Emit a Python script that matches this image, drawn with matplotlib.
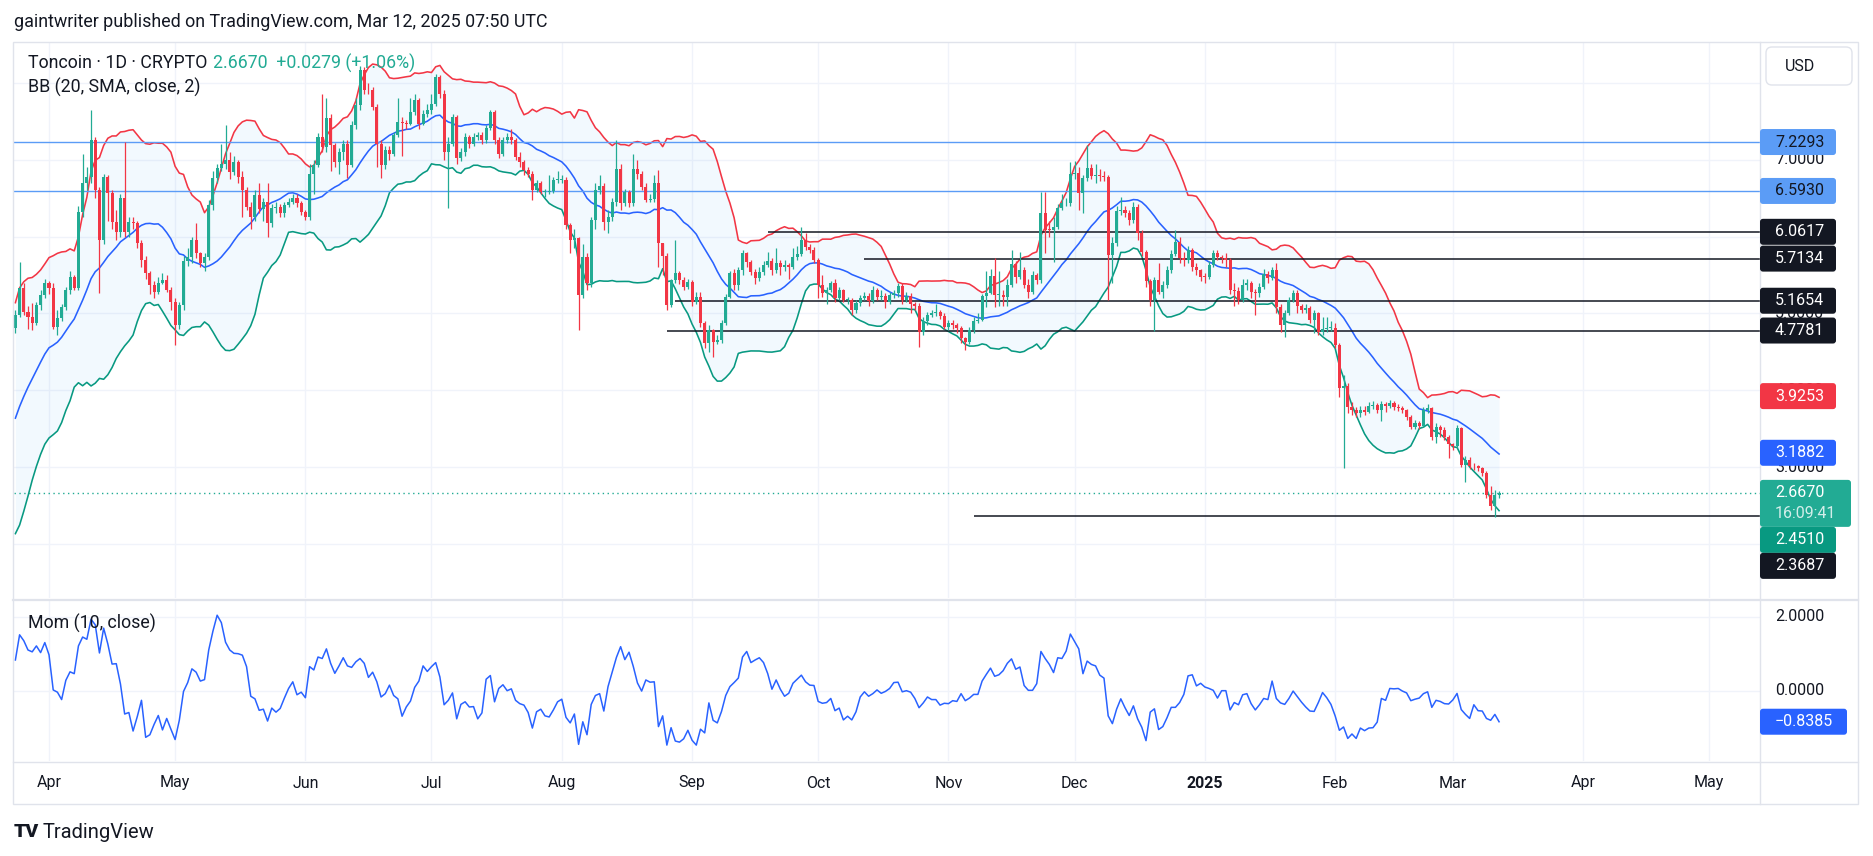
import numpy as np
import pandas as pd
import matplotlib
matplotlib.use('Agg')
import matplotlib.pyplot as plt
from matplotlib.patches import FancyBboxPatch, Rectangle

# ---------------- data ----------------
START = '2024-03-24'
# closes of the 19 days before the first visible candle (needed for BB / Mom)
pre_closes = [2.30, 2.40, 2.55, 2.70, 2.90, 3.10, 3.30, 3.70, 4.15,
              4.15, 3.82, 3.67, 3.86, 3.82, 3.90, 4.21, 4.09, 4.36, 4.81]

closes = [
 4.98,5.33,5.02,4.96,4.87,5.11,5.24,5.39,5.33,4.83,
 4.94,5.09,5.30,5.47,5.33,6.32,6.69,6.78,7.26,6.61,
 5.96,6.78,6.56,6.19,6.06,6.50,6.06,6.19,6.17,5.91,
 5.70,5.52,5.37,5.28,5.39,5.44,5.31,5.15,4.85,5.11,
 5.68,5.74,5.96,5.78,5.65,5.74,6.41,6.76,6.89,6.95,
 6.99,6.84,6.97,6.78,6.61,6.39,6.26,6.54,6.36,6.45,
 6.17,6.37,6.39,6.30,6.41,6.45,6.50,6.43,6.32,6.26,
 6.82,6.93,7.30,7.17,7.54,7.19,6.97,7.10,7.21,6.93,
 7.45,7.71,8.17,7.91,7.90,7.69,7.21,6.93,7.13,7.08,
 7.32,7.49,7.48,7.47,7.62,7.78,7.47,7.60,7.65,7.73,
 8.08,7.86,7.10,7.21,7.56,7.02,7.10,7.30,7.21,7.30,
 7.32,7.26,7.41,7.62,7.26,7.08,7.26,7.30,7.26,7.04,
 6.97,6.87,6.82,6.61,6.69,6.58,6.58,6.59,6.74,6.74,
 6.74,6.15,5.95,5.98,5.24,5.74,5.39,6.22,6.61,6.66,
 6.19,6.26,6.45,6.88,6.43,6.58,6.43,6.88,6.82,6.65,
 6.48,6.49,6.69,5.91,5.75,5.11,5.43,5.52,5.43,5.35,
 5.41,5.15,5.22,4.87,4.61,4.78,4.63,4.65,4.87,5.22,
 5.52,5.37,5.56,5.78,5.67,5.54,5.46,5.54,5.63,5.68,
 5.56,5.66,5.60,5.63,5.60,5.74,5.77,5.96,5.87,5.83,
 5.70,5.37,5.26,5.31,5.39,5.20,5.30,5.17,5.18,5.04,
 5.13,5.20,5.23,5.16,5.31,5.22,5.23,5.15,5.24,5.26,
 5.36,5.17,5.23,5.12,5.10,4.76,4.90,4.98,5.00,5.02,
 4.97,4.83,4.88,4.85,4.81,4.68,4.63,4.78,4.90,4.92,
 5.23,5.27,5.49,5.24,5.24,5.22,5.37,5.64,5.48,5.56,
 5.37,5.28,5.50,5.43,6.30,6.09,6.08,6.13,6.37,6.43,
 6.44,6.81,6.83,6.56,6.76,6.89,6.79,6.80,6.79,6.77,
 5.76,5.92,6.33,6.34,6.30,6.22,6.38,6.04,5.80,5.42,
 5.18,5.43,5.28,5.37,5.57,5.77,5.93,5.72,5.70,5.82,
 5.61,5.56,5.48,5.47,5.63,5.78,5.73,5.72,5.70,5.30,
 5.29,5.18,5.37,5.39,5.28,5.26,5.35,5.51,5.46,5.56,
 5.08,4.85,5.00,5.18,5.27,5.10,5.04,5.07,4.91,5.00,
 4.76,4.80,4.81,4.81,4.59,4.03,4.06,3.78,3.74,3.71,
 3.75,3.72,3.80,3.81,3.74,3.82,3.80,3.84,3.79,3.77,
 3.74,3.66,3.53,3.58,3.54,3.74,3.77,3.39,3.53,3.48,
 3.39,3.30,3.28,3.506,3.03,3.10,3.02,3.01,2.99,2.93,
 2.64,2.50,2.639,2.667]

highs = [
 5.05,5.67,5.40,5.10,5.13,5.15,5.30,5.45,5.42,5.40,
 5.05,5.12,5.35,5.55,5.50,6.40,7.08,6.90,7.65,7.30,
 6.65,6.82,6.80,6.60,6.35,6.55,7.23,6.25,6.25,6.20,
 5.95,5.75,5.55,5.42,5.48,5.52,5.50,5.35,5.20,5.15,
 5.75,5.85,6.00,6.18,5.80,5.78,6.48,6.85,6.95,7.20,
 7.45,7.10,7.05,7.00,6.85,6.65,6.45,6.60,6.70,6.50,
 6.70,6.42,6.45,6.42,6.45,6.50,6.55,6.55,6.46,6.35,
 6.95,7.00,7.35,7.86,7.80,7.60,7.22,7.15,7.25,7.25,
 7.50,7.80,8.22,8.20,8.00,7.95,7.72,7.25,7.18,7.18,
 7.36,7.80,7.55,7.52,7.80,7.85,7.80,7.65,7.72,7.85,
 8.12,8.10,7.90,7.30,7.60,7.58,7.15,7.35,7.32,7.35,
 7.36,7.36,7.45,7.65,7.64,7.30,7.30,7.35,7.40,7.28,
 7.10,7.00,6.90,6.85,6.73,6.72,6.62,6.80,6.78,6.85,
 6.80,6.78,6.18,6.10,6.00,5.90,5.78,6.25,6.70,6.80,
 6.70,6.35,6.50,7.25,6.95,6.62,6.60,7.08,7.00,6.85,
 6.70,6.55,6.80,6.87,5.92,5.78,5.45,5.96,5.55,5.48,
 5.45,5.43,5.28,5.28,4.90,4.85,4.80,4.72,4.92,5.25,
 5.55,5.58,5.60,5.82,5.80,5.70,5.58,5.60,5.68,5.80,
 5.72,5.85,5.70,5.70,5.66,5.85,5.88,6.12,6.05,5.90,
 5.86,5.72,5.50,5.35,5.42,5.45,5.35,5.32,5.22,5.20,
 5.18,5.24,5.28,5.27,5.36,5.33,5.30,5.26,5.28,5.30,
 5.40,5.40,5.28,5.26,5.15,5.14,4.95,5.02,5.05,5.12,
 5.05,5.00,4.92,4.92,4.88,4.84,4.70,4.82,4.95,5.00,
 5.25,5.55,5.58,5.72,5.55,5.30,5.45,5.82,5.68,5.80,
 5.60,5.45,5.55,5.52,6.58,6.58,6.20,6.25,6.42,6.55,
 6.50,6.97,6.98,6.90,6.80,7.19,6.95,6.95,6.88,6.85,
 6.80,6.00,6.40,6.52,6.40,6.35,6.45,6.42,6.08,5.82,
 5.45,5.48,5.65,5.42,5.62,5.82,6.08,6.00,5.80,5.88,
 5.85,5.66,5.58,5.52,5.68,5.82,5.82,5.76,5.78,5.72,
 5.40,5.35,5.45,5.45,5.42,5.32,5.40,5.58,5.55,5.60,
 5.65,5.12,5.05,5.22,5.30,5.30,5.12,5.12,5.10,5.05,
 5.02,4.95,4.95,4.90,4.88,4.62,4.20,4.10,3.85,3.78,
 3.80,3.80,3.85,3.86,3.83,3.86,3.85,3.87,3.86,3.82,
 3.80,3.76,3.68,3.62,3.60,3.78,3.82,3.79,3.58,3.55,
 3.52,3.42,3.32,3.55,3.52,3.15,3.13,3.05,3.03,3.00,
 2.95,2.75,2.71,2.69]

lows = [
 4.75,4.95,4.98,4.80,4.79,4.85,5.05,5.20,5.25,4.80,
 4.72,4.90,5.05,5.25,5.30,5.30,6.25,6.60,6.70,6.50,
 5.26,5.90,6.20,6.10,5.95,6.00,6.00,6.00,6.10,5.85,
 5.60,5.45,5.25,5.20,5.25,5.38,5.28,5.05,4.59,4.80,
 5.05,5.62,5.65,5.72,5.60,5.55,5.70,6.35,6.70,6.85,
 6.88,6.75,6.80,6.70,6.25,6.35,6.10,6.20,6.30,6.20,
 6.00,6.12,6.30,6.25,6.25,6.38,6.42,6.38,6.28,6.22,
 6.22,6.55,6.90,7.10,7.10,6.85,6.90,6.82,7.00,6.76,
 6.90,7.40,7.65,7.85,7.85,7.65,6.90,6.76,6.88,7.00,
 7.05,7.30,7.05,7.40,7.45,7.58,7.40,7.45,7.55,7.60,
 7.70,7.80,7.00,6.37,7.18,6.95,6.98,7.05,7.15,7.18,
 7.25,7.20,7.22,7.38,7.20,7.02,7.05,7.22,7.20,7.00,
 6.90,6.80,6.78,6.47,6.58,6.55,6.52,6.55,6.56,6.70,
 6.70,6.10,5.78,5.85,4.78,5.20,5.30,5.35,6.10,6.55,
 6.08,6.05,6.20,6.40,6.35,6.40,6.38,6.40,6.75,6.60,
 6.45,6.45,6.45,5.60,5.50,5.05,5.08,5.40,5.38,5.30,
 5.32,5.10,5.12,4.82,4.55,4.50,4.44,4.60,4.62,4.85,
 5.20,5.30,5.30,5.50,5.60,5.50,5.38,5.42,5.50,5.60,
 5.50,5.52,5.50,5.55,5.45,5.58,5.70,5.75,5.82,5.78,
 5.65,5.20,5.22,5.12,5.28,5.15,5.18,5.15,5.12,4.98,
 5.00,5.10,5.18,5.10,5.14,5.18,5.18,5.07,5.12,5.20,
 5.22,5.12,5.15,5.00,5.05,4.56,4.72,4.85,4.95,4.97,
 4.93,4.80,4.78,4.80,4.75,4.62,4.53,4.60,4.75,4.88,
 4.90,5.08,5.25,5.09,5.10,5.10,5.10,5.35,5.40,5.45,
 5.33,5.20,5.25,5.38,5.40,5.78,6.00,5.67,6.10,6.35,
 6.40,6.40,6.75,6.35,6.31,6.72,6.75,6.70,6.72,6.72,
 5.17,5.40,5.88,6.28,6.25,6.15,6.18,5.95,5.75,5.35,
 5.10,4.77,5.25,5.20,5.33,5.52,5.75,5.65,5.62,5.65,
 5.55,5.50,5.42,5.40,5.45,5.60,5.70,5.65,5.60,5.25,
 5.10,5.12,5.15,5.30,5.20,4.98,5.22,5.32,5.40,5.44,
 5.00,4.76,4.70,4.98,5.15,5.00,5.00,5.00,4.88,4.75,
 4.72,4.72,4.76,4.77,4.55,3.91,2.99,3.70,3.68,3.65,
 3.66,3.68,3.70,3.76,3.70,3.60,3.72,3.77,3.75,3.73,
 3.70,3.62,3.50,3.50,3.50,3.52,3.70,3.36,3.31,3.40,
 3.35,3.12,3.22,3.25,3.00,2.81,2.98,2.97,2.95,2.88,
 2.60,2.45,2.35,2.60]

blue_levels = [7.2293, 6.5930]
black_levels = [6.0617, 5.7134, 5.1654, 4.7781, 2.3687]
black_level_starts = ['2024-09-19', '2024-10-12', '2024-08-28', '2024-08-26', '2024-11-07']
last_price = 2.6670
change_text = '+0.0279 (+1.06%)'
countdown = '16:09:41'
bb_upper_last, bb_mid_last, bb_lower_last = 3.9253, 3.1882, 2.4510
mom_last = -0.8385
month_labels = ['Apr', 'May', 'Jun', 'Jul', 'Aug', 'Sep', 'Oct', 'Nov', 'Dec',
                '2025', 'Feb', 'Mar', 'Apr', 'May']
month_starts = ['2024-04-01', '2024-05-01', '2024-06-01', '2024-07-01', '2024-08-01',
                '2024-09-01', '2024-10-01', '2024-11-01', '2024-12-01', '2025-01-01',
                '2025-02-01', '2025-03-01', '2025-04-01', '2025-05-01']
price_ticks = [2, 3, 4, 5, 6, 7, 8]
mom_ticks = [2.0, 0.0]

# ---------------- style ----------------
plt.rcParams['font.family'] = ['Roboto', 'DejaVu Sans']
TXT = '#131722'
UP = '#22AB94'
DOWN = '#F23645'
BLUE = '#2962FF'
LOWC = '#089981'
GRID = '#F0F3FA'
BORDER = '#E0E3EB'
LBLUE = '#5B9CF6'

W, H = 1874, 856
fig = plt.figure(figsize=(W / 100, H / 100), dpi=100)
fig.patch.set_facecolor('white')


def rect(l, t, r, b):
    return [l / W, 1 - b / H, (r - l) / W, (b - t) / H]


ax = fig.add_axes(rect(14, 42, 1760, 598))
axm = fig.add_axes(rect(14, 600, 1760, 761), sharex=ax)
ov = fig.add_axes([0, 0, 1, 1], zorder=10)
ov.set_xlim(0, W)
ov.set_ylim(H, 0)
ov.axis('off')

n = len(closes)
x = np.arange(n)
allc = pd.Series(pre_closes + closes, dtype=float)
sma = allc.rolling(20).mean().values[-n:]
sd = allc.rolling(20).std(ddof=0).values[-n:]
upper = sma + 2 * sd
lower = sma - 2 * sd
mom = allc.diff(10).values[-n:]
opens = np.array([pre_closes[-1]] + closes[:-1], dtype=float)
c = np.array(closes, dtype=float)
hi = np.array(highs, dtype=float)
lo = np.array(lows, dtype=float)

start = pd.Timestamp(START)


def idx(d):
    return (pd.Timestamp(d) - start).days


XL = (-0.33, 415.08)
for a in (ax, axm):
    a.set_xlim(*XL)
    for s in a.spines.values():
        s.set_visible(False)
    a.set_xticks([])
    a.set_yticks([])
    a.set_facecolor('white')
ax.set_ylim(1.300, 8.530)
axm.set_ylim(-1.900, 2.451)

for d in month_starts:
    for a in (ax, axm):
        a.axvline(idx(d), color=GRID, lw=1, zorder=0)
for p in price_ticks:
    ax.axhline(p, color=GRID, lw=1, zorder=0)
for p in mom_ticks:
    axm.axhline(p, color=GRID, lw=1, zorder=0)

# Bollinger bands
ax.fill_between(x, lower, upper, color='#2196F3', alpha=0.055, lw=0, zorder=1)
ax.plot(x, upper, color=DOWN, lw=1.15, zorder=2)
ax.plot(x, sma, color=BLUE, lw=1.15, zorder=2)
ax.plot(x, lower, color=LOWC, lw=1.15, zorder=2)

# horizontal drawings
for v in blue_levels:
    ax.axhline(v, color=LBLUE, lw=1.0, zorder=3)
for v, d in zip(black_levels, black_level_starts):
    ax.hlines(v, idx(d), XL[1], color=TXT, lw=1.1, zorder=3)
ax.axhline(last_price, color=UP, lw=1.0, ls=(0, (1, 2.5)), zorder=3)

# candles
up = c >= opens
col = np.where(up, UP, DOWN)
ax.vlines(x, np.minimum(lo, np.minimum(opens, c)), np.maximum(hi, np.maximum(opens, c)),
          colors=col, lw=0.9, zorder=4)
body_b = np.minimum(opens, c)
body_h = np.maximum(np.abs(c - opens), 0.012)
ax.bar(x, body_h, bottom=body_b, width=0.72, color=col, lw=0, zorder=4)

# momentum
axm.plot(x, mom, color=BLUE, lw=1.1, zorder=2)


# ---------------- overlay (frame, texts, tags) ----------------
def py(a, v):
    return H - a.transData.transform((0, v))[1]


def px(a, i):
    return a.transData.transform((i, 0))[0]


ov.add_patch(Rectangle((13.5, 41.5), 1845, 762, fill=False, ec=BORDER, lw=1.0))
ov.plot([1760.5, 1760.5], [41.5, 803.5], color=BORDER, lw=1.0)
ov.plot([13.5, 1858.5], [599.5, 599.5], color=BORDER, lw=1.6)
ov.plot([13.5, 1858.5], [761.5, 761.5], color=BORDER, lw=1.0)

FS = 12.8
ov.text(14, 22, 'gaintwriter published on TradingView.com, Mar 12, 2025 07:50 UTC',
        fontsize=12.9, color=TXT, va='center', ha='left')
ov.text(28, 63, 'Toncoin · 1D · CRYPTO', fontsize=FS, color=TXT, va='center', ha='left')
ov.text(213, 63, f'{last_price:.4f}  {change_text}', fontsize=FS, color=UP, va='center', ha='left')
ov.text(28, 87, 'BB (20, SMA, close, 2)', fontsize=FS, color=TXT, va='center', ha='left')
ov.text(28, 623, 'Mom (10, close)', fontsize=FS, color=TXT, va='center', ha='left')

AXFS = 11.5
USD_BOTTOM = 85
for p in price_ticks:
    yy = py(ax, p)
    if yy - 8 > USD_BOTTOM:   # labels hidden behind the currency box are not drawn
        ov.text(1775, yy, f'{p:.4f}', fontsize=AXFS, color=TXT, va='center', ha='left', zorder=1)
for p in mom_ticks:
    ov.text(1775, py(axm, p), f'{p:.4f}', fontsize=AXFS, color=TXT, va='center', ha='left', zorder=1)

# price tags, pushed apart like the TradingView scale does
tags = [
    dict(v=blue_levels[0], fc=LBLUE, tc=TXT),
    dict(v=blue_levels[1], fc=LBLUE, tc=TXT),
    dict(v=black_levels[0], fc=TXT, tc='white'),
    dict(v=black_levels[1], fc=TXT, tc='white'),
    dict(v=black_levels[2], fc=TXT, tc='white'),
    dict(v=black_levels[3], fc=TXT, tc='white'),
    dict(v=bb_upper_last, fc=DOWN, tc='white'),
    dict(v=bb_mid_last, fc=BLUE, tc='white'),
    dict(v=last_price, fc=UP, tc='white', big=True),
    dict(v=bb_lower_last, fc=LOWC, tc='white'),
    dict(v=black_levels[4], fc=TXT, tc='white'),
]
TH = 26
for t in tags:
    t['y'] = py(ax, t['v'])
tags.sort(key=lambda t: t['y'])
prev_bottom = -1e9
for t in tags:
    top = t['y'] - TH / 2
    if top < prev_bottom:
        top = prev_bottom
    hgt = 47 if t.get('big') else TH
    wid = 91 if t.get('big') else 76
    ov.add_patch(FancyBboxPatch((1760, top), wid, hgt,
                                boxstyle='round,pad=0,rounding_size=3',
                                fc=t['fc'], ec='none', zorder=3))
    ov.text(1775, top + TH / 2, f"{t['v']:.4f}", fontsize=AXFS, color=t['tc'],
            va='center', ha='left', zorder=4)
    if t.get('big'):
        ov.text(1775, top + TH / 2 + 21, countdown, fontsize=AXFS, color='white',
                alpha=0.8, va='center', ha='left', zorder=4)
    prev_bottom = top + hgt

ym = py(axm, mom_last)
ov.add_patch(FancyBboxPatch((1760, ym - TH / 2), 87, TH, boxstyle='round,pad=0,rounding_size=3',
                            fc=BLUE, ec='none', zorder=3))
ov.text(1775, ym, f'{mom_last:.4f}'.replace('-', '\u2212'), fontsize=AXFS, color='white',
        va='center', ha='left', zorder=4)

# currency box
ov.add_patch(FancyBboxPatch((1766, 47), 86, 38, boxstyle='round,pad=0,rounding_size=6',
                            fc='white', ec=BORDER, lw=1.0, zorder=5))
ov.text(1800, 66, 'USD', fontsize=AXFS, color=TXT, va='center', ha='center', zorder=6)

# time axis
for lab, d in zip(month_labels, month_starts):
    xx = px(ax, idx(d))
    if xx < 1755:
        ov.text(xx, 783, lab, fontsize=AXFS, color=TXT, va='center', ha='center',
                fontweight='bold' if lab.isdigit() else 'normal')

# footer logo
ov.text(14, 832, 'TV', fontsize=14, color=TXT, va='center', ha='left', fontweight='black')
ov.text(43, 832, 'TradingView', fontsize=14.5, color=TXT, va='center', ha='left')

fig.savefig('out.png', dpi=100, facecolor='white')
